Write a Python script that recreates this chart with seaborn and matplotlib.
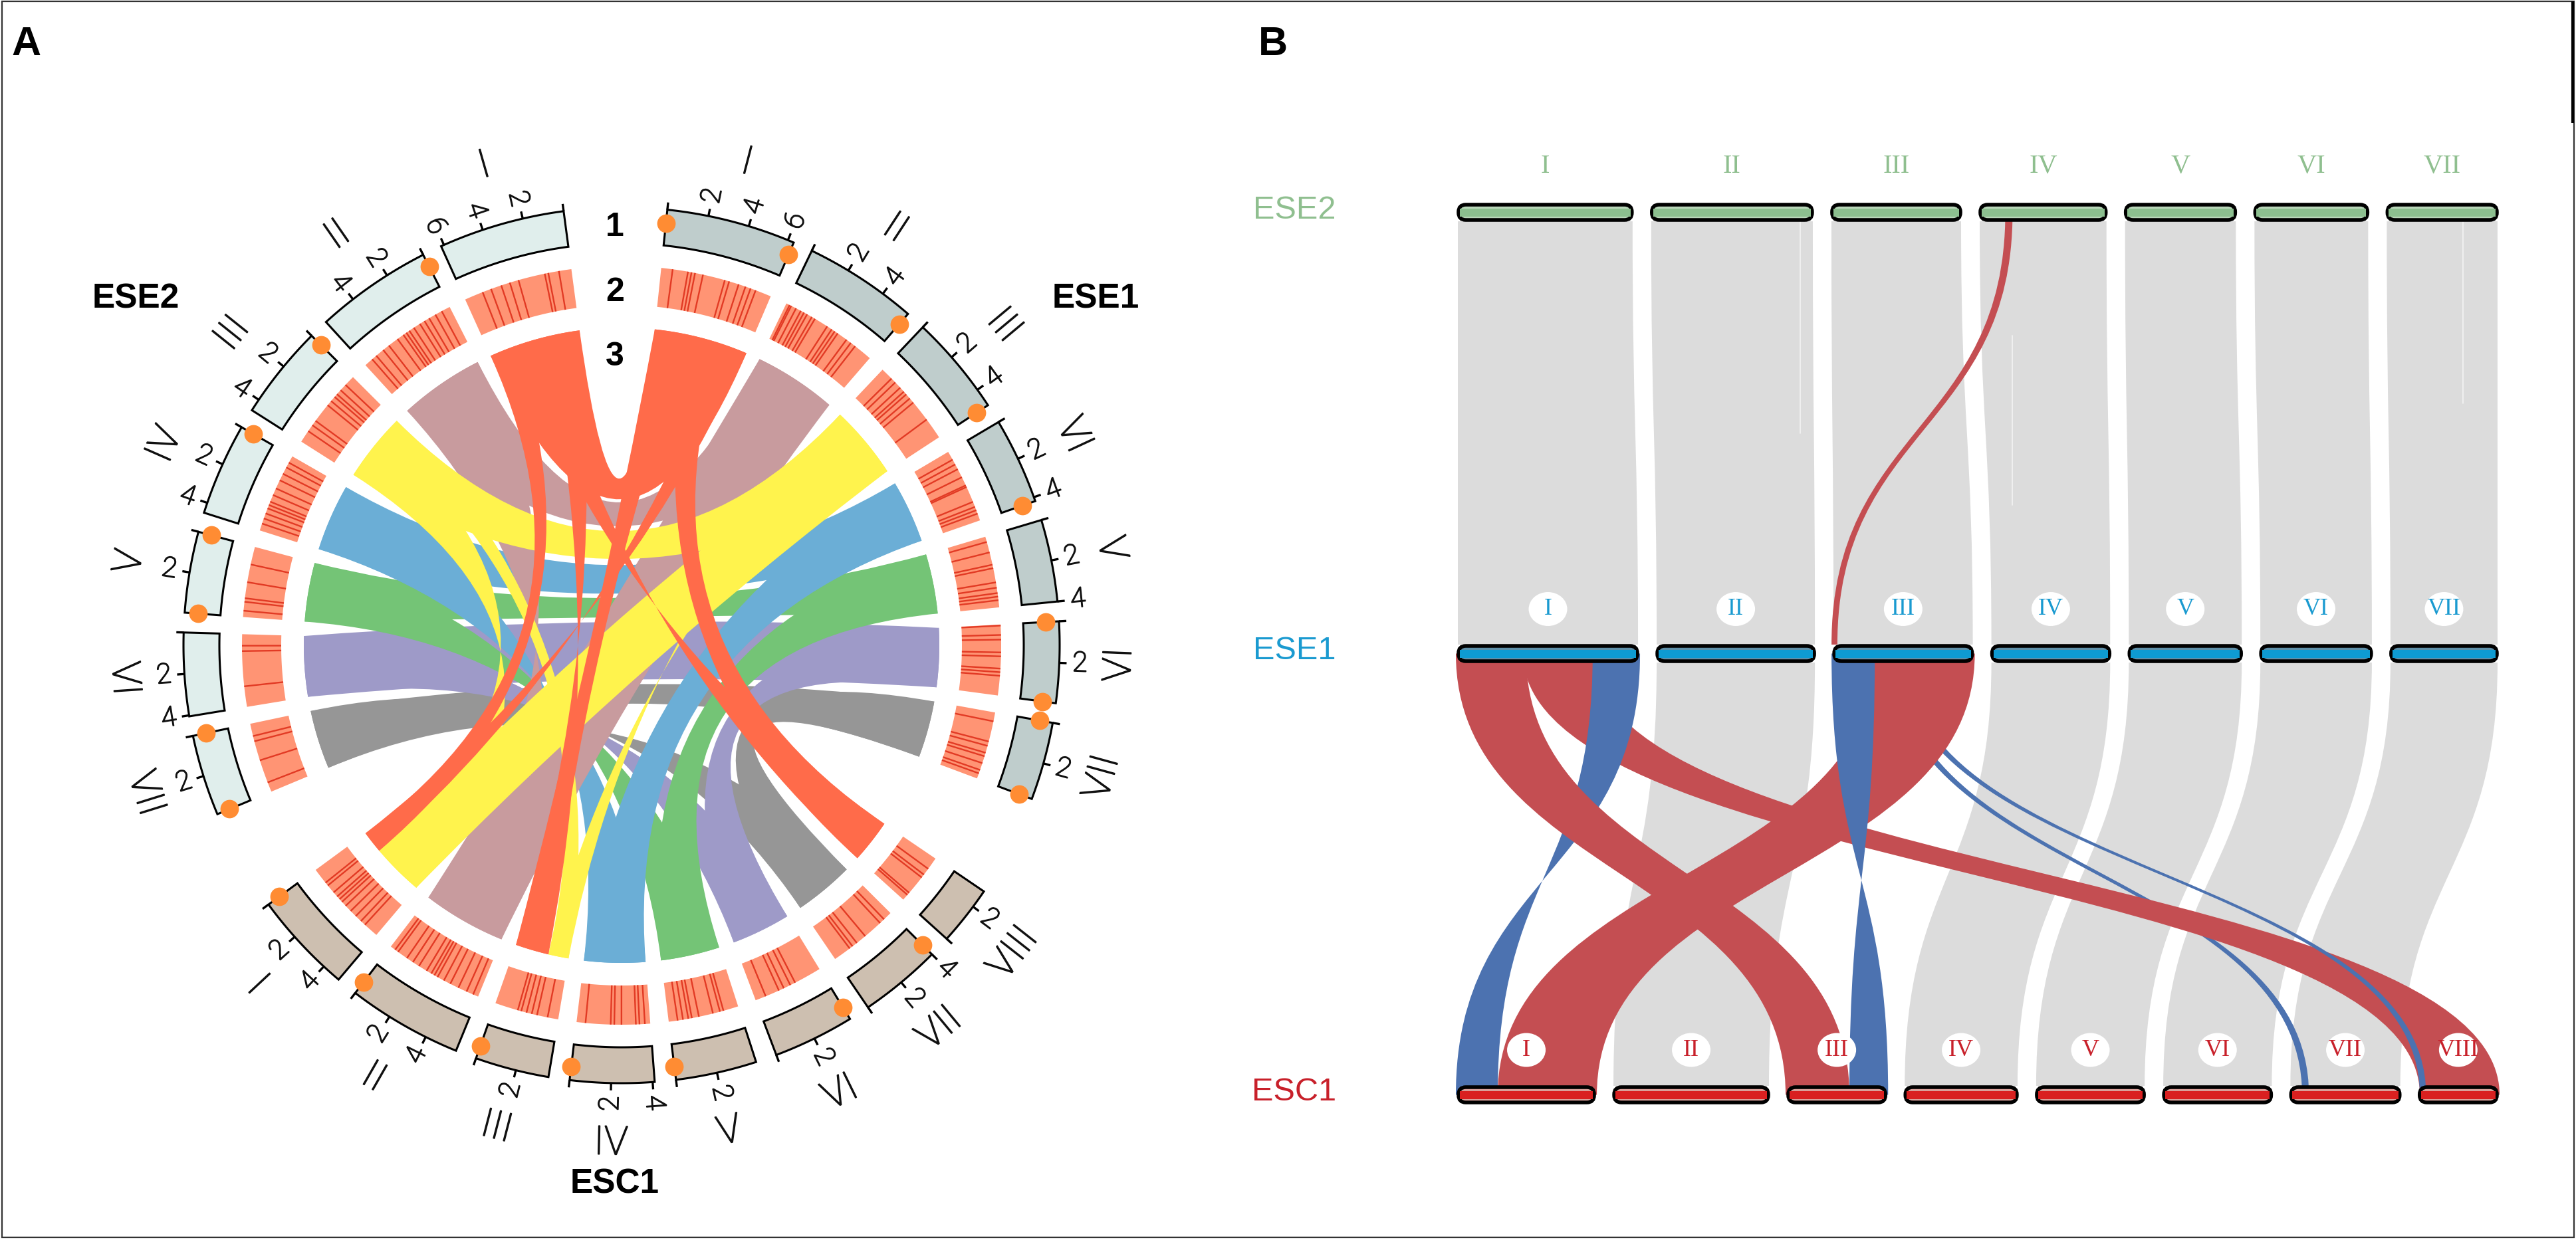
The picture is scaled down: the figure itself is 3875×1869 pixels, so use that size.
import numpy as np
import pandas as pd
import seaborn as sns
import matplotlib.pyplot as plt
import matplotlib.patheffects as pe
from matplotlib.path import Path
from matplotlib.patches import PathPatch, FancyBboxPatch, Ellipse, Rectangle

# ==========================
# data
# ==========================
genomes = ["ESE2", "ESE1", "ESC1"]
chrom_names = ["I", "II", "III", "IV", "V", "VI", "VII", "VIII"]

# chromosome lengths, Mb
ese2_len = [6.15, 5.7, 4.6, 4.5, 3.95, 4.05, 3.95]
ese1_len = [6.3, 5.55, 4.9, 4.2, 4.0, 3.95, 3.8]
esc1_len = [4.95, 5.6, 3.6, 4.1, 3.95, 3.95, 4.0, 2.9]

# the reference prints VI on the fourth ESE1 sector
ese1_circos_names = ["I", "II", "III", "VI", "V", "VI", "VII"]

# track 2, positions of the dark lines (Mb)
ese2_lines = [
    [0.7, 1.3, 1.5, 3.0, 3.5, 4.0, 4.6, 5.1],
    [0.5, 0.9, 1.3, 1.6, 1.9, 2.3, 2.6, 2.8, 3.0, 3.4, 4.0, 4.4, 4.9, 5.2],
    [0.6, 1.0, 1.3, 1.5, 1.8, 2.1, 3.2, 3.5, 3.9],
    [0.4, 0.7, 1.1, 1.5, 2.0, 2.4, 2.8, 3.0, 3.2, 3.5, 3.8, 4.1],
    [1.0, 2.0, 2.9, 3.1, 3.6],
    [0.64, 0.94, 2.9],
    [0.7, 1.0, 2.1, 3.4],
]
ese1_lines = [
    [0.64, 1.5, 1.7, 1.9, 2.35, 3.6, 3.85, 4.4, 4.8, 5.1, 5.4],
    [0.2, 0.3, 0.6, 0.9, 1.1, 1.3, 1.6, 1.8, 2.6, 2.9, 3.1, 3.3, 3.9, 4.2, 4.5],
    [0.7, 1.0, 1.4, 1.7, 1.9, 2.2, 2.5, 3.7],
    [0.5, 0.8, 1.1, 1.6, 2.1, 2.2, 3.1, 3.4, 3.6, 3.8],
    [0.3, 0.9, 1.6, 1.8, 2.6, 2.9, 3.2, 3.4, 3.6],
    [0.06, 0.58, 0.84, 1.55, 1.77, 2.45, 2.65, 2.85],
    [0.5, 1.65, 1.9, 2.3, 2.5, 2.9, 3.3, 3.5],
]
esc1_lines = [
    [0.9, 1.1, 1.6, 1.9, 2.1, 2.3, 2.6, 3.0, 3.4, 3.8, 4.1],
    [0.3, 0.5, 1.1, 1.5, 1.9, 2.4, 2.7, 2.9, 3.1, 3.5, 3.9, 4.4, 4.9, 5.3],
    [1.3, 1.5, 1.8, 2.1, 2.4, 3.0],
    [0.5, 1.9, 2.1, 2.5, 3.3, 3.5, 3.8],
    [0.5, 0.8, 1.1, 1.3, 1.7, 2.5, 2.9, 3.1],
    [0.6, 1.4, 1.7, 2.1, 2.4],
    [1.0, 1.2, 1.5, 2.1, 3.2, 3.5],
    [0.35, 0.5, 1.6, 1.8, 2.2],
]

# telomere dots: (genome, chrom index, at chrom end?)
telomeres = [
    (0, 1, 0), (0, 2, 0), (0, 3, 0), (0, 4, 0), (0, 4, 1), (0, 6, 0), (0, 6, 1),
    (1, 0, 0), (1, 0, 1), (1, 1, 1), (1, 2, 1), (1, 3, 1), (1, 5, 0), (1, 5, 1), (1, 6, 0), (1, 6, 1),
    (2, 0, 0), (2, 1, 0), (2, 2, 0), (2, 3, 0), (2, 4, 0), (2, 5, 1), (2, 6, 1),
]

# track 3 links, start pairs with start and end with end, so a link can come out twisted
# genome, chrom, start, end, genome, chrom, start, end, colour index
chord_links = [
    (0, 6, 0, 3.95, 2, 6, 0, 4.0, 6), (1, 6, 0, 3.8, 2, 6, 0, 4.0, 6), (1, 6, 0, 3.8, 0, 6, 0, 3.95, 6),
    (0, 5, 0, 4.05, 2, 5, 0, 3.95, 5), (1, 5, 0, 3.95, 2, 5, 0, 3.95, 5), (1, 5, 0, 3.95, 0, 5, 0, 4.05, 5),
    (0, 4, 0, 3.95, 2, 4, 0, 3.95, 4), (1, 4, 0, 4.0, 2, 4, 0, 3.95, 4), (1, 4, 0, 4.0, 0, 4, 0, 3.95, 4),
    (0, 3, 0, 4.5, 2, 3, 0, 4.1, 3), (1, 3, 0, 4.2, 2, 3, 0, 4.1, 3), (1, 3, 0, 4.2, 0, 3, 0, 4.5, 3),
    (0, 1, 0, 5.7, 2, 1, 0, 5.6, 1), (1, 1, 0, 5.55, 2, 1, 0, 5.6, 1), (1, 1, 0, 5.55, 0, 1, 0, 5.7, 1),
    (1, 2, 0, 4.9, 0, 2, 0, 4.6, 2),
    (0, 2, 0, 1.4, 2, 2, 3.6, 2.24, 2), (1, 2, 0, 1.48, 2, 2, 3.6, 2.24, 2),
    (0, 2, 1.4, 4.6, 2, 0, 1.47, 4.95, 2), (1, 2, 1.48, 4.9, 2, 0, 1.47, 4.95, 2),
    (1, 0, 0, 6.3, 0, 0, 0, 6.15, 0),
    (0, 0, 0, 2.35, 2, 2, 0, 2.24, 0), (1, 0, 0, 2.4, 2, 2, 0, 2.24, 0),
    (0, 0, 2.35, 4.55, 2, 7, 0, 2.9, 0), (1, 0, 2.4, 4.68, 2, 7, 0, 2.9, 0),
    (0, 0, 4.55, 6.15, 2, 0, 1.47, 0, 0), (1, 0, 4.68, 6.3, 2, 0, 1.47, 0, 0),
]

# panel B, ESE1 to ESC1 blocks in draw order: chrom, from, to, chrom, from, to, colour
grey_pairs = [1, 3, 4, 5, 6]
synteny_links = [
    (2, 2.0, 2.25, 6, 0.48, 0.72, "blue", False),
    (0, 2.3, 4.68, 7, 0.1, 2.9, "red", False),
    (2, 2.3, 2.55, 7, 0.1, 0.32, "blue", False),
    (0, 4.68, 6.3, 0, 0, 1.47, "blue", True),
    (0, 0, 2.4, 2, 0, 2.24, "red", False),
    (2, 1.48, 4.9, 0, 1.47, 4.95, "red", False),
    (2, 0, 1.48, 2, 2.24, 3.6, "blue", True),
]
# panel B, the one coloured link ESE2 IV to ESE1 III
ese2_red_link = (3, 0.95, 1.2, 2, 0.0, 0.2)
# thin white streaks in the ESE2 to ESE1 grey: chrom, Mb, from, to (share of the height)
ese2_streaks = [(1, 5.2, 0.0, 0.5), (3, 1.2, 0.27, 0.67), (6, 2.7, 0.0, 0.43)]

# ==========================
# style and layout
# ==========================
sns.set_theme(style="white")
plt.rcParams["font.family"] = ["Liberation Sans", "DejaVu Sans"]

W, H = 3875, 1869
CX, CY = 935, 971
R_T1_OUT, R_T1_IN = 659, 605
R_T2_OUT, R_T2_IN = 571, 512
R_LINK = 478
R_DOT = 639
R_TICKLABEL = 690
R_NAME = 750
DEG_PER_MB = 2.72

start_angle = [-7.6, 6.0, 233.7]
direction = [-1, 1, -1]
gap_deg = [2.6, 2.6, 2.8]
lengths = [ese2_len, ese1_len, esc1_len]
track_lines = [ese2_lines, ese1_lines, esc1_lines]
circos_names = [chrom_names[:7], ese1_circos_names, chrom_names]
track1_colors = ["#E0EEEC", "#BFCDCC", "#CDBFB0"]

deep = sns.color_palette("deep")
link_palette = sns.color_palette(["#FF6B4A", "#C89B9E", "#FFF34D", "#6BAED6", "#74C476", "#9E9AC8", "#969696"])
block_colors = {"red": deep[3], "blue": deep[0]}
BAND = "#FF9474"
BAND_LINE = "#E23A24"
DOT = "#FF8C33"
GREY = "#DCDCDC"

ROW_X0, ROW_X1 = 2190, 3760
ROW_GAP = 22
row_y = [319.5, 983.5, 1647.5]
BAR_H = 27
row_colors = ["#8CBF8F", "#0E9BD2", "#D92020"]
row_edges = ["#B9D6B9", "#5E8FA8", "#D9A09A"]
label_colors = ["#8FBF8F", "#1A9AD0", "#C8202A"]
# the light cut comes out hairline thin, a small stroke brings it to the reference weight
THIN = dict(family=["Roboto", "Liberation Sans"], weight="light", color="#111111",
            path_effects=[pe.withStroke(linewidth=1.3, foreground="#111111")])
NARROW = ["Liberation Sans Narrow", "Liberation Sans"]


def pol(theta, r):
    t = np.radians(theta)
    return CX + r * np.sin(t), CY - r * np.cos(t)


def mb_angle(g, c, mb):
    off = sum(lengths[g][:c]) * DEG_PER_MB + c * gap_deg[g]
    return start_angle[g] + direction[g] * (off + mb * DEG_PER_MB)


def band_xy(a0, a1, r0, r1):
    ts = np.linspace(a0, a1, 40)
    xo, yo = pol(ts, r0)
    xi, yi = pol(ts[::-1], r1)
    return np.r_[xo, xi], np.r_[yo, yi]


def nice_rot(rot):
    return (rot + 90) % 180 - 90


def ribbon(ax, a_s, a_e, b_s, b_e, color, zorder):
    verts, codes = [pol(a_s, R_LINK)], [Path.MOVETO]

    def arc(t0, t1):
        xs, ys = pol(np.linspace(t0, t1, 16), R_LINK)
        verts.extend(zip(xs, ys))
        codes.extend([Path.LINETO] * 16)

    def chord(t0, t1):
        # control point moves off the centre depending on the separation
        d = (t1 - t0 + 180) % 360 - 180
        k = np.interp(abs(d), [0, 12, 34, 140, 180], [0.06, 0.06, 0.004, 0.0, 0.12])
        verts.append(pol(t0 + d / 2, k * R_LINK))
        codes.append(Path.CURVE3)
        verts.append(pol(t1, R_LINK))
        codes.append(Path.CURVE3)

    arc(a_s, a_e)
    chord(a_e, b_e)
    arc(b_e, b_s)
    chord(b_s, a_s)
    verts.append(pol(a_s, R_LINK))
    codes.append(Path.CLOSEPOLY)
    ax.add_patch(PathPatch(Path(verts, codes), fc=color, ec="none", zorder=zorder))


def row_x(g, c, mb):
    lens = lengths[g]
    scale = (ROW_X1 - ROW_X0 - ROW_GAP * (len(lens) - 1)) / sum(lens)
    return ROW_X0 + (sum(lens[:c]) + mb) * scale + c * ROW_GAP


def block(ax, x00, x01, y0, x10, x11, y1, color, zorder, twist=False):
    ym = (y0 + y1) / 2
    if twist:
        x10, x11 = x11, x10
    verts = [(x00, y0), (x00, ym), (x10, ym), (x10, y1),
             (x11, y1), (x11, ym), (x01, ym), (x01, y0), (x00, y0)]
    codes = [Path.MOVETO, Path.CURVE4, Path.CURVE4, Path.CURVE4,
             Path.LINETO, Path.CURVE4, Path.CURVE4, Path.CURVE4, Path.CLOSEPOLY]
    ax.add_patch(PathPatch(Path(verts, codes), fc=color, ec="none", zorder=zorder))


fig = plt.figure(figsize=(W / 100, H / 100), dpi=100)
ax = fig.add_axes([0, 0, 1, 1])

# ==========================
# A, circos tracks
# ==========================
for g in range(3):
    for c, L in enumerate(lengths[g]):
        a0, a1 = mb_angle(g, c, 0), mb_angle(g, c, L)
        xs, ys = band_xy(a0, a1, R_T1_OUT, R_T1_IN)
        ax.fill(xs, ys, fc=track1_colors[g], ec="black", lw=2.2, zorder=3)
        for mb in range(0, int(L) + 1, 2):
            t = mb_angle(g, c, mb)
            x0, y0 = pol(t, R_T1_OUT)
            x1, y1 = pol(t, R_T1_OUT + 11)
            ax.plot([x0, x1], [y0, y1], color="black", lw=2.4, solid_capstyle="butt", zorder=3)
            if mb > 0:
                tx, ty = pol(t, R_TICKLABEL)
                ax.text(tx, ty, str(mb), fontsize=30, rotation=nice_rot(90 - t),
                        ha="center", va="center", rotation_mode="anchor", **THIN)
        nx, ny = pol((a0 + a1) / 2, R_NAME)
        ax.text(nx, ny, circos_names[g][c], fontsize=43, rotation=nice_rot(-(a0 + a1) / 2),
                ha="center", va="center", rotation_mode="anchor", **THIN)

        xs, ys = band_xy(a0, a1, R_T2_OUT, R_T2_IN)
        ax.fill(xs, ys, fc=BAND, ec="none", zorder=2)
        for mb in track_lines[g][c]:
            t = mb_angle(g, c, mb)
            x0, y0 = pol(t, R_T2_OUT)
            x1, y1 = pol(t, R_T2_IN)
            ax.plot([x0, x1], [y0, y1], color=BAND_LINE, lw=1.7, solid_capstyle="butt", zorder=2)

for n, link in enumerate(chord_links):
    ga, ca, sa, ea, gb, cb, sb, eb, ci = link
    ribbon(ax, mb_angle(ga, ca, sa), mb_angle(ga, ca, ea), mb_angle(gb, cb, sb), mb_angle(gb, cb, eb),
           link_palette[ci], 1 + n * 0.01)

dots = pd.DataFrame(
    [(*pol(mb_angle(g, c, lengths[g][c] * e), R_DOT), genomes[g]) for g, c, e in telomeres],
    columns=["x", "y", "genome"],
)
sns.scatterplot(data=dots, x="x", y="y", s=400, color=DOT, linewidth=0, legend=False, ax=ax, zorder=4)

for t, (tx, ty) in zip(["ESE2", "ESE1", "ESC1"], [(204, 450), (1648, 450), (925, 1782)]):
    ax.text(tx, ty, t, fontsize=37, fontweight="bold", color="black", ha="center", va="center")
for t, ty in zip(["1", "2", "3"], [342, 440, 537]):
    ax.text(925, ty, t, fontsize=36, fontweight="bold", color="black", ha="center", va="center")
ax.text(40, 67, "A", fontsize=44, fontweight="bold", color="black", ha="center", va="center")
ax.text(1915, 67, "B", fontsize=44, fontweight="bold", color="black", ha="center", va="center")

# ==========================
# B, synteny rows
# ==========================
y_top0 = row_y[0] + BAR_H / 2
y_mid0 = row_y[1] - BAR_H / 2
y_mid1 = row_y[1] + BAR_H / 2
y_bot0 = row_y[2] - BAR_H / 2

for c in range(7):
    block(ax, row_x(0, c, 0) + 3, row_x(0, c, ese2_len[c]) - 3, y_top0,
          row_x(1, c, 0) + 3, row_x(1, c, ese1_len[c]) - 3, y_mid0, GREY, 1)
for c, mb, f0, f1 in ese2_streaks:
    xs = row_x(0, c, mb)
    ax.plot([xs, xs], [y_top0 + f0 * (y_mid0 - y_top0), y_top0 + f1 * (y_mid0 - y_top0)],
            color="#F4F4F4", lw=1.2, zorder=1.5)
for c in grey_pairs:
    block(ax, row_x(1, c, 0) + 3, row_x(1, c, ese1_len[c]) - 3, y_mid1,
          row_x(2, c, 0) + 3, row_x(2, c, esc1_len[c]) - 3, y_bot0, GREY, 1)

c0, s0, e0, c1, s1, e1 = ese2_red_link
block(ax, row_x(0, c0, s0), row_x(0, c0, e0), row_y[0], row_x(1, c1, s1), row_x(1, c1, e1), y_mid0,
      block_colors["red"], 2)

for n, (c0, s0, e0, c1, s1, e1, col, tw) in enumerate(synteny_links):
    block(ax, row_x(1, c0, s0), row_x(1, c0, e0), row_y[1],
          row_x(2, c1, s1), row_x(2, c1, e1), row_y[2], block_colors[col], 2 + n * 0.01, twist=tw)

for g in range(3):
    for c, L in enumerate(lengths[g]):
        x0, x1 = row_x(g, c, 0), row_x(g, c, L)
        ax.add_patch(FancyBboxPatch((x0 + 4, row_y[g] - BAR_H / 2 + 2), x1 - x0 - 8, BAR_H - 4,
                                    boxstyle="round,pad=0,rounding_size=11", fc=row_edges[g],
                                    ec="black", lw=4.0, zorder=5))
        ax.add_patch(Rectangle((x0 + 6, row_y[g] - 6), x1 - x0 - 12, 12, fc=row_colors[g], ec="none", zorder=6))
        name = chrom_names[c]
        xc = (x0 + x1) / 2
        if g == 0:
            ax.text(xc, 250, name, fontsize=29, family="Liberation Serif", color=label_colors[g],
                    ha="center", va="center")
        else:
            ly = 916.5 if g == 1 else 1580
            ax.add_patch(Ellipse((xc, ly), 58, 51, fc="white", ec="none", zorder=7))
            ax.text(xc, ly, name, fontsize=26, family="Liberation Serif", color=label_colors[g],
                    ha="center", va="center", zorder=8)

for g, ly in enumerate([316.5, 979, 1643]):
    ax.text(1947, ly, genomes[g], fontsize=35, family=NARROW, color=label_colors[g], ha="center", va="center")

# ==========================
# frame
# ==========================
ax.add_patch(Rectangle((3, 2), W - 6, 1860, fc="none", ec="#333333", lw=1.6, zorder=9))
ax.plot([3870, 3870], [2, 185], color="black", lw=3, solid_capstyle="butt", zorder=9)

ax.set_xlim(0, W)
ax.set_ylim(H, 0)
ax.set_axis_off()
fig.savefig("out.png", dpi=100, facecolor="white")
